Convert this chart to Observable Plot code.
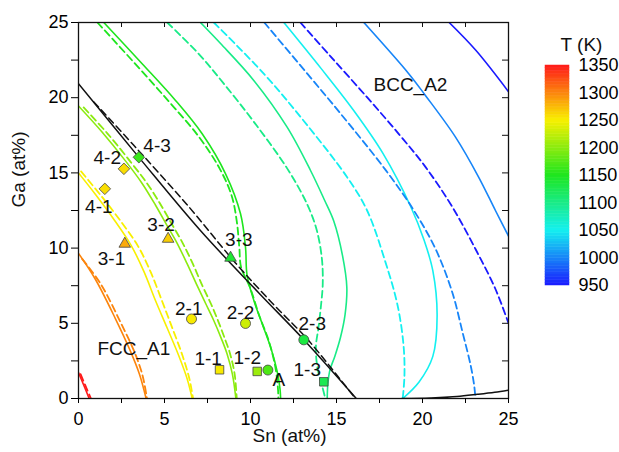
<!DOCTYPE html>
<html><head><meta charset="utf-8">
<script src="https://cdn.jsdelivr.net/npm/d3@7"></script>
<script src="https://cdn.jsdelivr.net/npm/@observablehq/plot@0.6"></script>
<style>
body{margin:0;background:#fff;font-family:"Liberation Sans",Arial,sans-serif;}
#wrap{position:relative;width:619px;height:452px;}
#legend{position:absolute;left:540px;top:20px;}
</style></head><body><div id="wrap"></div>
<script>
// ---- contour curves [Sn at%, Ga at%] (solid = s, dashed = d) ----
const t1350s = [[0,1.72],[0.3,0.9],[0.62,0]];
const t1350d = [[0.12,1.62],[0.42,0.8],[0.72,0]];
const t1300s = [[0,9.65],[0.98,7.93],[2.15,5.3],[3.0,3.2],[3.55,1.6],[3.93,0]];
const t1300d = [[0.21,9.28],[1.3,7.6],[2.45,5.05],[3.25,3.1],[3.72,1.55],[3.98,0]];
const t1250s = [[0,15.0],[1.0,13.55],[2.0,12.0],[3.05,10.2],[3.8,8.45],[4.48,6.5],[5.15,4.7],[5.83,2.84],[6.32,1.3],[6.61,0]];
const t1250d = [[0.15,15.1],[1.3,13.5],[2.35,11.95],[3.45,10.15],[4.2,8.4],[4.85,6.5],[5.45,4.7],[6.05,2.84],[6.45,1.3],[6.66,0]];
const t1200s = [[0,19.45],[1.38,17.7],[2.73,15.8],[3.7,14.3],[4.48,12.85],[5.1,11.6],[5.7,10.4],[6.3,9.0],[6.9,7.5],[7.4,6.3],[7.87,5.17],[8.3,4.0],[8.64,2.96],[8.95,1.6],[9.15,0]];
const t1200d = [[0.3,19.35],[1.7,17.6],[3.05,15.7],[4.05,14.2],[4.85,12.75],[5.45,11.55],[6.05,10.35],[6.65,8.95],[7.2,7.5],[7.7,6.3],[8.12,5.15],[8.5,4.0],[8.82,2.95],[9.08,1.6],[9.2,0]];
const t1150s = [[1.47,25],[3.7,22.26],[5.64,19.82],[7.19,17.6],[8.55,14.94],[9.42,12.28],[9.71,10.05],[9.8,8.2],[10.2,6.5],[10.7,4.9],[11.2,3.3],[11.55,1.8],[11.72,0.6],[11.75,0]];
const t1150d = [[1.1,25],[3.3,22.25],[5.25,19.75],[7.0,17.4],[8.2,15.3],[8.9,13.5],[9.2,11.8],[9.35,10.05],[9.45,8.75],[10.0,7.3],[10.48,5.6],[11.06,3.84],[11.45,2.06],[11.6,0.6],[11.62,0]];
const t1100s = [[7.09,25],[8.26,23.6],[10.19,21.15],[12.13,18.04],[13.49,15.16],[14.3,13.2],[14.84,11.8],[15.35,9.5],[15.6,7.4],[15.5,5.6],[15.23,4.06],[14.9,2.8],[14.62,1.9],[14.5,1.0],[14.46,0]];
const t1100d = [[5.16,25],[7.0,22.9],[8.4,21.0],[10.19,18.4],[12.13,15.3],[13.3,12.9],[13.85,11.2],[14.15,9.3],[14.2,7.6],[14.1,6.2],[13.95,4.7],[13.8,3.4],[13.9,2.0],[14.15,0.9],[14.35,0]];
const t1050s = [[11.94,25],[14.1,21.95],[16.0,19.15],[17.7,16.3],[19.3,12.8],[20.1,10.5],[20.6,8.5],[20.85,5.5],[20.6,2.8],[19.8,1.1],[18.85,0]];
const t1050d = [[7.87,25],[10.77,21.6],[13.1,18.45],[15.62,14.71],[16.78,12.5],[17.85,9.05],[18.55,6.2],[18.9,3.5],[18.95,1.5],[18.85,0]];
const t1000s = [[16.59,25],[19.2,21.6],[20.17,20.15],[21.92,17.38],[23.27,14.71],[24.24,12.5],[25,10.8]];
const t1000d = [[10.8,25],[13.3,21.6],[15.23,18.95],[17.85,15.2],[19.5,12.5],[20.76,9.94],[21.73,7.06],[22.35,4.3],[22.8,2.2],[23.0,0.9],[23.08,0]];
const t950s = [[21.55,25],[23.1,23.15],[25,20.4]];
const t950d = [[12.9,25],[14.65,22.75],[16.8,20.0],[18.65,17.55],[20.17,15.4],[21.7,12.8],[23.08,9.94],[24.24,7.28],[25,5.0]];
// phase boundaries (black)
const boundS = [[0,20.93],[3.5,16.05],[7.1,11.15],[10.5,7.0],[13.1,3.91],[16.15,0]];
const boundD = [[0.89,19.72],[3.2,16.85],[6.3,12.9],[9.1,9.05],[11.3,6.3],[13.3,3.95],[15.2,1.3],[16.1,0]];
const boundB = [[18.8,0],[20.5,0.03],[22,0.13],[23.2,0.28],[24.2,0.42],[25,0.56]];

// ---- sample points ----
const ptName  = ["1-1","1-2","1-3","2-1","2-2","2-3","A","3-1","3-2","3-3","4-1","4-2","4-3"];
const ptGroup = ["1","1","1","2","2","2","2","3","3","3","4","4","4"];
const ptX = [8.2,10.39,14.26,6.57,9.71,13.1,11.01,2.69,5.21,8.84,1.53,2.64,3.51];
const ptY = [1.91,1.8,1.11,5.29,4.99,3.9,1.89,10.28,10.61,9.35,13.94,15.27,16.04];
const ptT = [1253,1208,1125,1253,1230,1133,1172,1283,1266,1140,1259,1259,1162];
const lblX = [7.54,9.81,13.3,6.41,9.42,13.59,11.65,1.92,4.8,9.32,1.18,1.67,4.57];
const lblY = [2.62,2.73,1.91,5.95,5.66,4.99,1.22,9.3,11.52,10.55,12.72,16.0,16.81];
const phaseName = ["FCC_A1","BCC_A2"];
const phaseX = [3.22,19.3];
const phaseY = [3.29,20.87];

// ---- axes / legend ----
const tickVals = [0,2.5,5,7.5,10,12.5,15,17.5,20,22.5,25];
const legendTicks = [950,1000,1050,1100,1150,1200,1250,1300,1350];
const colorStops = [950,1050,1150,1250,1350];

const curves = [
  [1350,false,t1350s],[1350,true,t1350d],[1300,false,t1300s],[1300,true,t1300d],
  [1250,false,t1250s],[1250,true,t1250d],[1200,false,t1200s],[1200,true,t1200d],
  [1150,false,t1150s],[1150,true,t1150d],[1100,false,t1100s],[1100,true,t1100d],
  [1050,false,t1050s],[1050,true,t1050d],[1000,false,t1000s],[1000,true,t1000d],
  [950,false,t950s],[950,true,t950d]
];
const rows = curves.flatMap(([T,dash,pts],i)=>pts.map(([x,y])=>({id:i,T,dash,x,y})));
const pts = ptName.map((n,i)=>({name:n,g:ptGroup[i],x:ptX[i],y:ptY[i],T:ptT[i],lx:lblX[i],ly:lblY[i]}));

const colorScale = {type:"linear", domain: colorStops,
  range:["#1a1aff","#14f0f0","#1ee61e","#f8f000","#ff1a1a"]};
const font = "Liberation Sans, Arial, sans-serif";
const fmt = d => (d % 5 === 0 ? String(d) : "");
const dotStyle = {x:"x", y:"y", fill:"T", stroke:"#444", strokeWidth:0.8};

const chart = Plot.plot({
  width: 619, height: 452,
  marginLeft: 78, marginRight: 111, marginTop: 22, marginBottom: 54,
  style: {fontFamily: font, fontSize: "18px", color: "black", background: "white"},
  x: {domain:[0,25], label:null},
  y: {domain:[0,25], label:null},
  color: colorScale,
  marks: [
    Plot.line(rows.filter(d=>!d.dash), {x:"x", y:"y", z:"id", stroke:"T", strokeWidth:1.6, curve:"catmull-rom", clip:true}),
    Plot.line(rows.filter(d=>d.dash), {x:"x", y:"y", z:"id", stroke:"T", strokeWidth:1.8, strokeDasharray:"7,4", curve:"catmull-rom", clip:true}),
    Plot.line(boundS, {x:d=>d[0], y:d=>d[1], stroke:"#111", strokeWidth:1.5, curve:"catmull-rom", clip:true}),
    Plot.line(boundD, {x:d=>d[0], y:d=>d[1], stroke:"#111", strokeWidth:1.5, strokeDasharray:"7,4", curve:"catmull-rom", clip:true}),
    Plot.line(boundB, {x:d=>d[0], y:d=>d[1], stroke:"#111", strokeWidth:1.5, curve:"catmull-rom", clip:true}),
    Plot.dot(pts.filter(d=>d.g==="1"), {...dotStyle, symbol:"square", r:4.8}),
    Plot.dot(pts.filter(d=>d.g==="2"), {...dotStyle, symbol:"circle", r:5}),
    Plot.dot(pts.filter(d=>d.g==="3"), {...dotStyle, symbol:"triangle", r:4.3}),
    Plot.dot(pts.filter(d=>d.g==="4"), {...dotStyle, symbol:"diamond2", r:5.2}),
    Plot.text(pts, {x:"lx", y:"ly", text:"name", fontSize:19, fill:"#111"}),
    Plot.text(phaseName, {x:(d,i)=>phaseX[i], y:(d,i)=>phaseY[i], text:d=>d, fontSize:19, fill:"#111"}),
    Plot.frame({stroke:"#111", strokeWidth:1.3}),
    Plot.axisX({ticks: tickVals, tickFormat: fmt, tickSize: 5, tickPadding: 9, fontSize: 18, label: null}),
    Plot.axisY({ticks: tickVals, tickFormat: fmt, tickSize: 7, tickPadding: 3, fontSize: 18, label: null}),
    Plot.tickX(tickVals, {x:d=>d, insetBottom: 376-5, stroke:"#111"}),
    Plot.tickY(tickVals, {y:d=>d, insetLeft: 430-6, stroke:"#111"}),
    Plot.text(["Sn (at%)"], {frameAnchor:"bottom", dy:43, dx:-4, fontSize:19, fill:"#111"}),
    Plot.text(["Ga (at%)"], {frameAnchor:"left", dx:-60, dy:-3, rotate:-90, fontSize:19, fill:"#111"})
  ]
});
document.getElementById("wrap").appendChild(chart);

const step = 5;
const legendSteps = d3.range(950, 1350, step);
const legend = Plot.plot({
  width: 79, height: 275,
  marginLeft: 5, marginRight: 50, marginTop: 45, marginBottom: 10,
  style: {fontFamily: font, fontSize: "18px", color: "black", background: "transparent", overflow: "visible"},
  x: {domain:[0,1], axis:null},
  y: {domain:[950,1350], axis:null},
  color: colorScale,
  marks: [
    Plot.rect(legendSteps, {x1:0, x2:1, y1:d=>d, y2:d=>d+step, fill:d=>d+step/2, stroke:d=>d+step/2, strokeWidth:0.5}),
    Plot.axisY({anchor:"right", ticks: legendTicks, tickFormat: d=>String(d), tickSize:0, tickPadding:9, fontSize:18, label:null}),
    Plot.text(["T (K)"], {frameAnchor:"top", dx:24, dy:-28, fontSize:19, fill:"#111"})
  ]
});
const ld = document.createElement("div");
ld.id = "legend";
ld.appendChild(legend);
document.getElementById("wrap").appendChild(ld);
</script></body></html>
